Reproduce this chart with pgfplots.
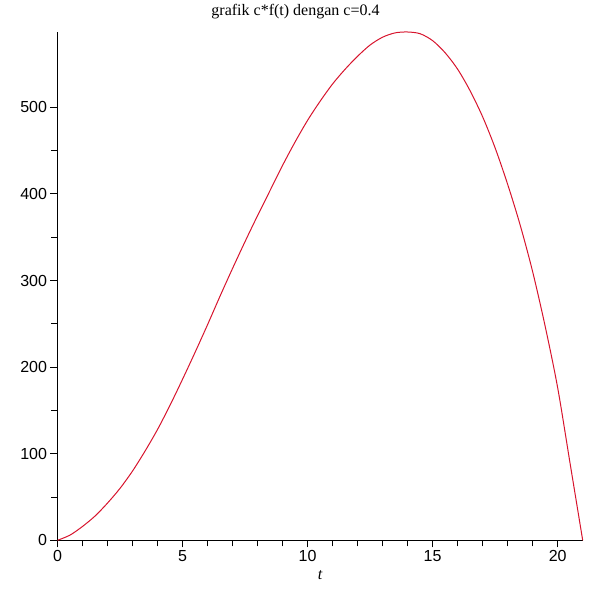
\documentclass[border=0pt]{standalone}
\usepackage{pgfplots}
\pgfplotsset{compat=1.18}
\usepackage{fontspec}
\setmainfont{Liberation Serif}
\newfontfamily\ticksans{Liberation Sans}
\definecolor{curvered}{RGB}{215,20,45}

\begin{document}
\begin{tikzpicture}
  % frame with the reference's proportions
  \path (-57.5bp,-55.7bp) rectangle (533.5bp,540.3bp);
  \begin{axis}[
      scale only axis,
      width=525.2bp,
      height=508.3bp,
      xmin=0, xmax=21,
      ymin=0, ymax=587,
      axis x line=bottom,
      axis y line=left,
      axis line style={-, line width=1.2bp, black},
      xtick={0,5,10,15,20},
      ytick={0,100,200,300,400,500},
      minor x tick num=4,
      minor y tick num=1,
      tick align=outside,
      major tick length=7bp,
      minor tick length=6bp,
      tick style={black, line width=1bp},
      /pgf/number format/assume math mode=true,
      ticklabel style={font=\ticksans\fontsize{16bp}{18bp}\selectfont},
      xlabel={\fontsize{16bp}{18bp}\selectfont\itshape t},
      xlabel style={yshift=-2bp},
      clip=false,
    ]
    \addplot[curvered, line width=1bp, smooth, tension=0.5] coordinates {
      (0,0) (0.5,6) (1,16) (1.5,28) (2,43) (2.5,60) (3,80) (3.5,103)
      (4,128) (4.5,156) (5,186) (5.5,217) (6,249) (6.5,282) (7,314)
      (7.5,345) (8,375) (8.5,404) (9,433) (9.5,460) (10,485) (10.5,507)
      (11,527) (11.5,544) (12,559) (12.5,572) (13,581) (13.5,586)
      (14,587) (14.5,585) (15,577) (15.5,563) (16,544) (16.5,519)
      (17,489) (17.5,453) (18,411) (18.5,364) (19,310) (19.5,247)
      (20,176) (20.5,88) (21,0)
    };
  \end{axis}
  \node at (238bp,528.3bp) {\fontsize{16bp}{18bp}\selectfont grafik c*f(t) dengan c=0.4};
\end{tikzpicture}
\end{document}
